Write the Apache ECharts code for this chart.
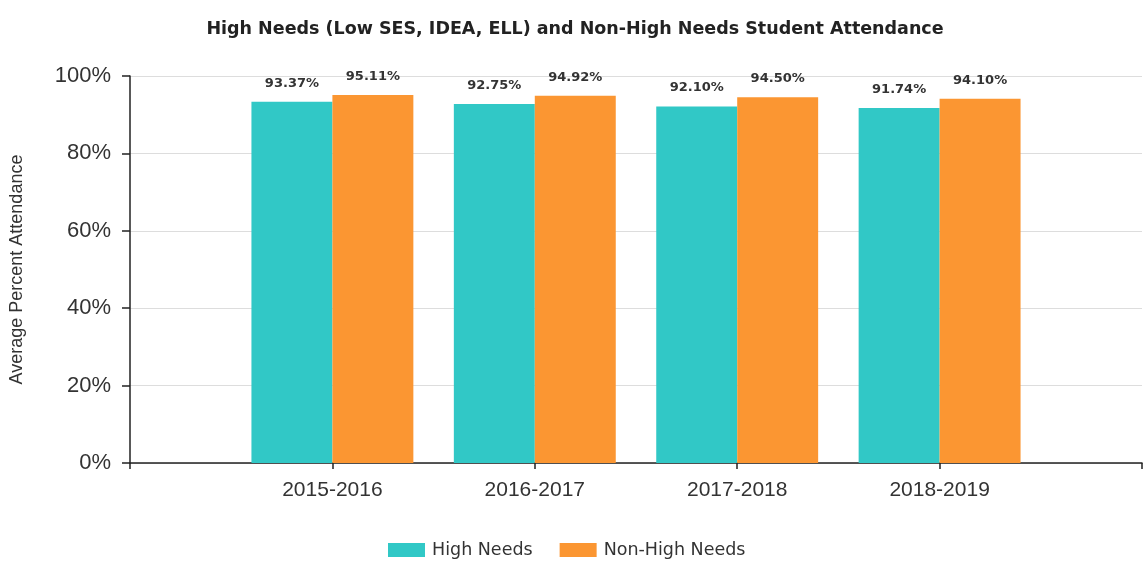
<!DOCTYPE html>
<html>
<head>
<meta charset="utf-8">
<script src="https://cdn.jsdelivr.net/npm/echarts@6/dist/echarts.min.js"></script>
<style>
  html, body { margin: 0; padding: 0; background: #fff; }
  #chart { width: 1145px; height: 563px; }
</style>
</head>
<body>
<div id="chart"></div>
<script>
// School years (padded with empty slots at both ends of the axis)
const categories = ["", "2015-2016", "2016-2017", "2017-2018", "2018-2019", ""];
const highNeeds = [null, 93.37, 92.75, 92.10, 91.74, null];
const nonHighNeeds = [null, 95.11, 94.92, 94.50, 94.10, null];
const yTicks = [0, 20, 40, 60, 80, 100];

const FONT = "'Liberation Sans', Arial, sans-serif";
const WIDE = "'DejaVu Sans', Verdana, sans-serif";

const chart = echarts.init(document.getElementById('chart'), null, { renderer: 'canvas' });

const labelStyle = {
  show: true,
  position: 'top',
  distance: 12,
  fontFamily: WIDE,
  fontSize: 13,
  fontWeight: 'bold',
  color: '#333',
  formatter: p => p.value.toFixed(2) + '%'
};

chart.setOption({
  animation: false,
  backgroundColor: '#fff',
  title: {
    text: 'High Needs (Low SES, IDEA, ELL) and Non-High Needs Student Attendance',
    left: 570,
    top: 15,
    textAlign: 'center',
    textStyle: { fontFamily: WIDE, fontSize: 17.5, fontWeight: 'bold', color: '#222' }
  },
  legend: {
    top: 541,
    left: 388,
    padding: 0,
    icon: 'rect',
    itemWidth: 37,
    itemHeight: 14,
    itemGap: 27,
    textStyle: { fontFamily: WIDE, fontSize: 17.5, color: '#333', padding: [0, 0, 0, 2] },
    data: ['High Needs', 'Non-High Needs']
  },
  grid: { left: 130, right: 3, top: 76, bottom: 100, containLabel: false },
  xAxis: {
    type: 'category',
    data: categories,
    boundaryGap: false,
    axisLine: { lineStyle: { color: '#222', width: 1.5 } },
    axisTick: { show: true, length: 6, lineStyle: { color: '#222', width: 1.5 } },
    axisLabel: { fontFamily: FONT, fontSize: 21, color: '#333', margin: 17, interval: 0 },
    splitLine: { show: false }
  },
  yAxis: {
    type: 'value',
    min: yTicks[0],
    max: yTicks[yTicks.length - 1],
    interval: 20,
    name: 'Average Percent Attendance',
    nameLocation: 'middle',
    nameGap: 104,
    nameTextStyle: { fontFamily: FONT, fontSize: 18, color: '#333' },
    axisLine: { show: true, lineStyle: { color: '#222', width: 1.5 } },
    axisTick: { show: true, length: 8, lineStyle: { color: '#222', width: 1.5 } },
    axisLabel: { fontFamily: FONT, fontSize: 22, color: '#333', margin: 19, formatter: '{value}%' },
    splitLine: { show: true, lineStyle: { color: '#ddd', width: 1 } }
  },
  series: [
    {
      name: 'High Needs',
      type: 'bar',
      data: highNeeds,
      barWidth: '40%',
      barGap: '0%',
      itemStyle: { color: '#31C8C6' },
      label: labelStyle
    },
    {
      name: 'Non-High Needs',
      type: 'bar',
      data: nonHighNeeds,
      barWidth: '40%',
      barGap: '0%',
      itemStyle: { color: '#FB9632' },
      label: labelStyle
    }
  ]
});
</script>
</body>
</html>
